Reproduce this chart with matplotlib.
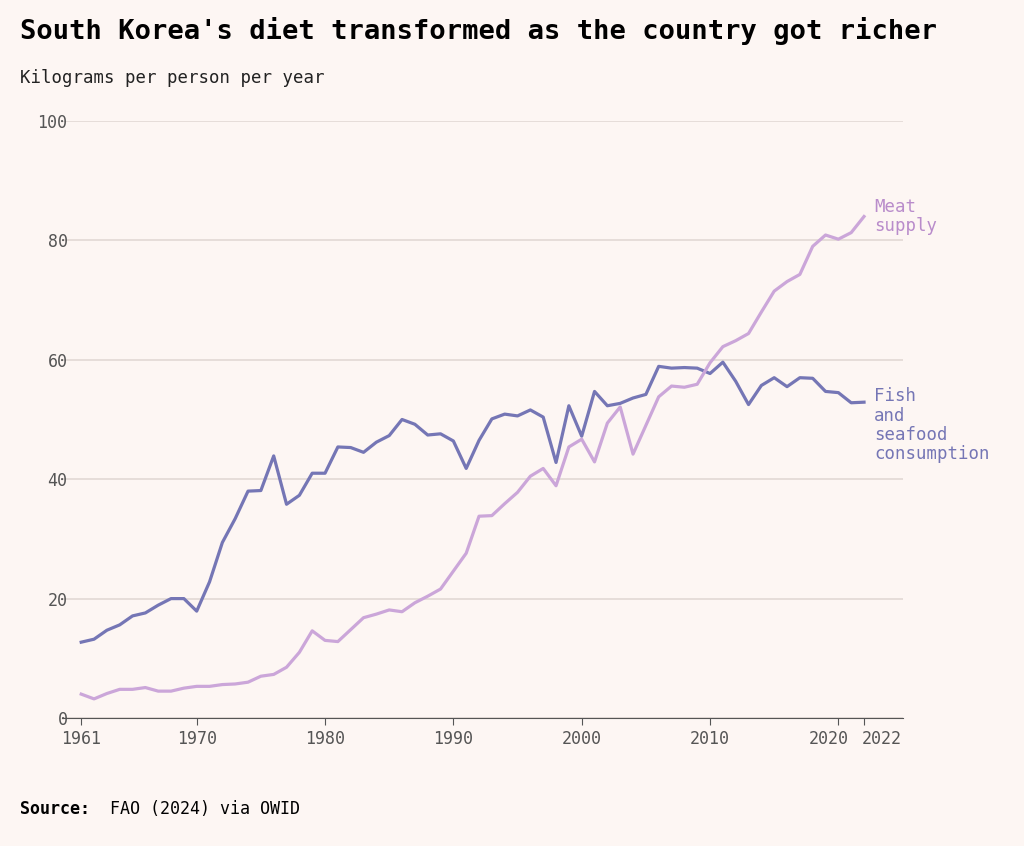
import matplotlib
matplotlib.use("Agg")
import matplotlib.pyplot as plt
import matplotlib.transforms as mtransforms
import numpy as np

years = np.arange(1961, 2023)
fish = [12.7, 13.2, 14.7, 15.6, 17.1, 17.6, 18.9, 20.0, 20.0, 17.9,
        22.8, 29.4, 33.4, 38.0, 38.1, 43.9, 35.8, 37.3, 41.0, 41.0,
        45.4, 45.3, 44.5, 46.2, 47.3, 50.0, 49.2, 47.4, 47.6, 46.4,
        41.8, 46.5, 50.1, 50.9, 50.6, 51.6, 50.4, 42.8, 52.3, 47.2,
        54.7, 52.3, 52.7, 53.6, 54.2, 58.9, 58.6, 58.7, 58.6, 57.7,
        59.6, 56.4, 52.5, 55.7, 57.0, 55.5, 57.0, 56.9, 54.7, 54.5,
        52.8, 52.9]
meat = [4.0, 3.2, 4.1, 4.8, 4.8, 5.1, 4.5, 4.5, 5.0, 5.3,
        5.3, 5.6, 5.7, 6.0, 7.0, 7.3, 8.5, 11.0, 14.6, 13.0,
        12.8, 14.8, 16.8, 17.4, 18.1, 17.8, 19.3, 20.4, 21.6, 24.6,
        27.6, 33.8, 33.9, 35.9, 37.8, 40.5, 41.8, 38.9, 45.4, 46.7,
        42.9, 49.4, 52.1, 44.2, 49.0, 53.8, 55.6, 55.4, 55.9, 59.5,
        62.2, 63.2, 64.4, 68.0, 71.5, 73.1, 74.3, 79.0, 80.9, 80.2,
        81.3, 84.0]
xticks = [1961, 1970, 1980, 1990, 2000, 2010, 2020, 2022]
yticks = [0, 20, 40, 60, 80, 100]

bg = "#fdf6f3"
fish_color = "#7576b5"
meat_color = "#cba6d9"
mono = "DejaVu Sans Mono"

fig = plt.figure(figsize=(10.24, 8.46), dpi=100, facecolor=bg)
ax = fig.add_axes([0.0605, 0.1513, 0.8215, 0.7057], facecolor=bg)

ax.plot(years, fish, color=fish_color, lw=2.3)
ax.plot(years, meat, color=meat_color, lw=2.3)

ax.set_xlim(1959.5, 2025.05)
ax.set_ylim(0, 100)
ax.set_yticks(yticks)
ax.set_xticks(xticks)
ax.grid(axis="y", color="#e2d8d4", lw=1.2)
ax.set_axisbelow(True)
for s in ["top", "right", "left"]:
    ax.spines[s].set_visible(False)
ax.spines["bottom"].set_color("#555555")
ax.tick_params(axis="y", length=0, pad=-4, labelsize=12, labelcolor="#555555")
ax.tick_params(axis="x", length=5, color="#555555", labelsize=12, labelcolor="#555555")
for lab in ax.get_yticklabels():
    lab.set_horizontalalignment("right")
for lab in ax.get_xticklabels() + ax.get_yticklabels():
    lab.set_fontfamily(mono)

# nudge the close 2020 / 2022 labels apart
xlabs = ax.get_xticklabels()
xlabs[6].set_transform(xlabs[6].get_transform() +
                       mtransforms.ScaledTranslation(-0.1, 0, fig.dpi_scale_trans))
xlabs[7].set_transform(xlabs[7].get_transform() +
                       mtransforms.ScaledTranslation(0.18, 0, fig.dpi_scale_trans))

ax.text(2022.8, meat[-1], "Meat\nsupply", color="#b98ccb", fontsize=12.5,
        family=mono, va="center", ha="left", linespacing=1.1)
ax.text(2022.8, 52.9 + 2.5, "Fish\nand\nseafood\nconsumption", color=fish_color,
        fontsize=12.5, family=mono, va="top", ha="left", linespacing=1.1)

fig.text(0.02, 0.963, "South Korea's diet transformed as the country got richer",
         fontsize=19.5, fontweight="bold", family=mono, va="center")
fig.text(0.02, 0.908, "Kilograms per person per year", fontsize=12.5,
         family=mono, va="center", color="#222222")
fig.text(0.02, 0.044, "Source:", fontsize=12, fontweight="bold", family=mono, va="center")
fig.text(0.107, 0.044, "FAO (2024) via OWID", fontsize=12, family=mono, va="center")

fig.savefig("out.png", dpi=100, facecolor=bg)
